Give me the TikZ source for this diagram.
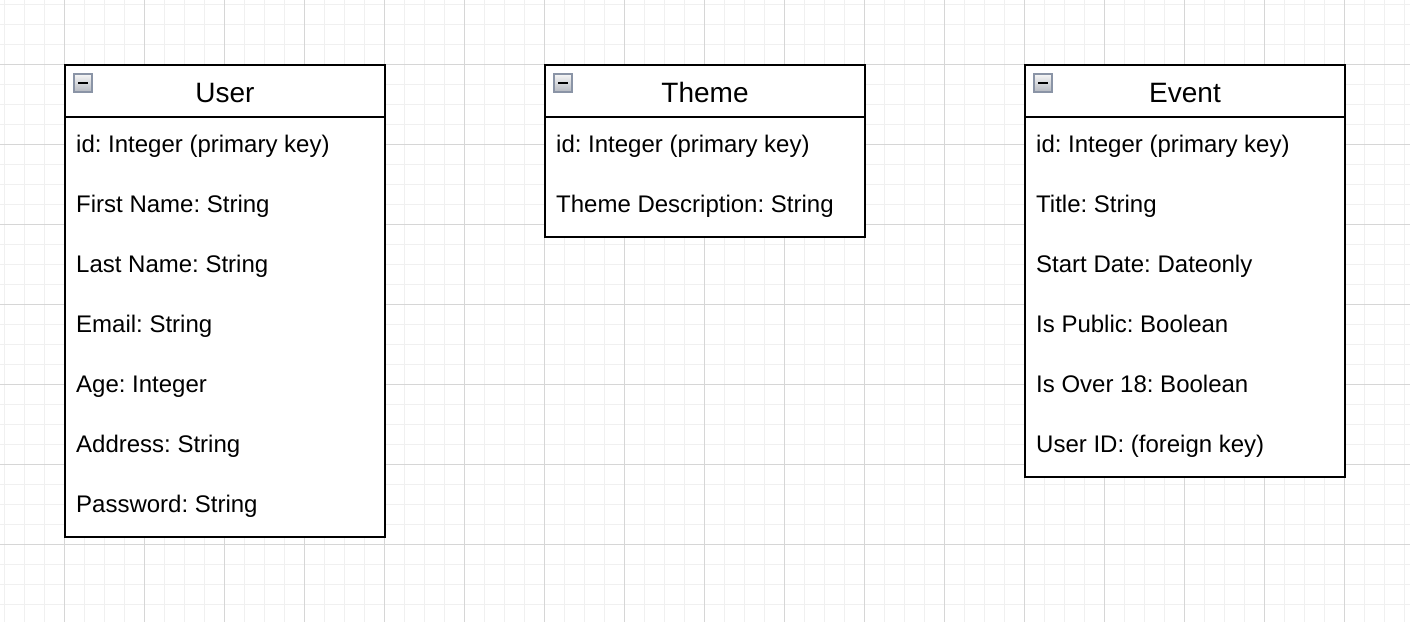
\documentclass[tikz,border=0pt]{standalone}
\usepackage{fontspec}
\setmainfont{Liberation Sans}
\frenchspacing
\definecolor{gridminor}{HTML}{F0F0F0}
\definecolor{gridmajor}{HTML}{D6D6D6}
\definecolor{iconedge}{HTML}{8A94A6}
\definecolor{icontop}{HTML}{F6F6F6}
\definecolor{iconbottom}{HTML}{B4B8C0}

\begin{document}
\begin{tikzpicture}[x={(1pt,0)}, y={(0,-1pt)}]
            \tikzstyle{title} = [anchor = base, inner sep = 0, font = \fontsize{28}{32}\selectfont];
            \tikzstyle{field} = [anchor = base west, inner sep = 0, font = \fontsize{24}{28}\selectfont];
            \tikzstyle{frame} = [draw = black, fill = white, line width = 2pt];
            \tikzstyle{icon} = [draw = iconedge, line width = 1.2pt, top color = icontop, bottom color = iconbottom];
            \useasboundingbox (0,0) rectangle (1410,622);
            % grid
            \foreach \x in {4, 24, ..., 1404}
            {\draw[gridminor, line width = 1pt] (\x,0) -- (\x,622);}
            \foreach \y in {4, 24, ..., 604}
            {\draw[gridminor, line width = 1pt] (0,\y) -- (1410,\y);}
            \foreach \x in {64, 144, ..., 1384}
            {\draw[gridmajor, line width = 1pt] (\x,0) -- (\x,622);}
            \foreach \y in {64, 144, ..., 604}
            {\draw[gridmajor, line width = 1pt] (0,\y) -- (1410,\y);}
            % tables
            \foreach \t/\x/\n in {User/65/7, Theme/545/2, Event/1025/6}
            {
            \draw[frame] (\x,65) rectangle (\x+320,117+60*\n);
            \draw[frame] (\x,117) -- (\x+320,117);
            \node[title] (\t-title) at (\x+160,102) {\t};
            \draw[icon] (\x+9,74) rectangle (\x+27,92);
            \draw[line width = 2pt] (\x+13,83) -- (\x+23,83);}
            \foreach \f [count=\i] in {{id: Integer (primary key)}, {First Name: String},
                {Last Name: String}, {Email: String}, {Age: Integer},
                {Address: String}, {Password: String}}
            {\node[field] (user-\i) at (76,92+60*\i) {\f};}
            \foreach \f [count=\i] in {{id: Integer (primary key)}, {Theme Description: String}}
            {\node[field] (theme-\i) at (556,92+60*\i) {\f};}
            \foreach \f [count=\i] in {{id: Integer (primary key)}, {Title: String},
                {Start Date: Dateonly}, {Is Public: Boolean}, {Is Over 18: Boolean},
                {User ID: (foreign key)}}
            {\node[field] (event-\i) at (1036,92+60*\i) {\f};}
        \end{tikzpicture}
\end{document}
